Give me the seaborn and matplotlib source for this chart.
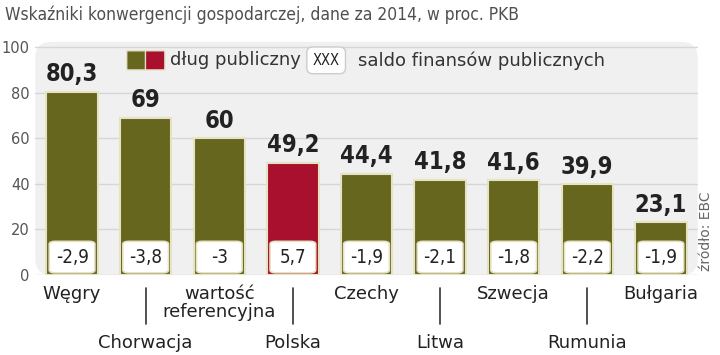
"""
Wskazniki konwergencji - dlug publiczny i saldo finansow (bar chart)
"""

import matplotlib
matplotlib.use('Agg')
import matplotlib.pyplot as plt
from matplotlib.patches import FancyBboxPatch
import seaborn as sns

countries = ['Węgry', 'Chorwacja', 'wartość\nreferencyjna', 'Polska', 'Czechy',
             'Litwa', 'Szwecja', 'Rumunia', 'Bułgaria']
debt = [80.3, 69, 60, 49.2, 44.4, 41.8, 41.6, 39.9, 23.1]
debt_labels = ['80,3', '69', '60', '49,2', '44,4', '41,8', '41,6', '39,9', '23,1']
balance_labels = ['-2,9', '-3,8', '-3', '5,7', '-1,9', '-2,1', '-1,8', '-2,2', '-1,9']

OLIVE = '#66661f'
RED = '#a8102e'
colors = [RED if c == 'Polska' else OLIVE for c in countries]

sns.set_style('white')
plt.rcParams['font.family'] = ['DejaVu Sans']

fig = plt.figure(figsize=(7.2, 3.55), dpi=100)
ax = fig.add_axes([0.049, 0.225, 0.92, 0.657])

# rounded grey panel behind the bars
ax.patch.set_visible(False)
panel = FancyBboxPatch((0, 0), 1, 1, boxstyle='round,pad=0,rounding_size=0.025',
                       transform=ax.transAxes, facecolor='#f0f0f0', edgecolor='none',
                       zorder=0, clip_on=False, mutation_aspect=2.8)
ax.add_patch(panel)

sns.barplot(x=list(range(len(countries))), y=debt, hue=list(range(len(countries))),
            palette=colors, saturation=1, legend=False, width=0.7, ax=ax,
            edgecolor='#e6e2c4', linewidth=1.5, zorder=3)
bars = list(ax.containers[0]) if len(ax.containers) == 1 else [c[0] for c in ax.containers]

ax.set_ylim(0, 102.2)
ax.set_xlim(-0.5, len(countries) - 0.5)
ax.set_yticks([0, 20, 40, 60, 80, 100])
ax.set_yticklabels(['0', '20', '40', '60', '80', '100'], color='#555555', fontsize=10.5)
ax.tick_params(axis='y', length=0, pad=4)
ax.set_xticks([])
ax.yaxis.grid(True, color='#d6d6d6', linewidth=1)
ax.set_axisbelow(True)
for s in ax.spines.values():
    s.set_visible(False)

# values above bars and balance boxes inside
for i, bar in enumerate(bars):
    cx = bar.get_x() + bar.get_width() / 2
    top = bar.get_height()
    ax.annotate(debt_labels[i], (cx, top), xytext=(0, 4), textcoords='offset points',
                ha='center', va='bottom', fontsize=17, fontweight='bold',
                fontstretch='condensed', color='#222222', zorder=5)
    box = FancyBboxPatch((cx - 0.31, 1.0), 0.62, 13.8,
                         boxstyle='round,pad=0,rounding_size=0.08', mutation_aspect=15,
                         facecolor='white', edgecolor='#e6e2c4', linewidth=1.2, zorder=4)
    ax.add_patch(box)
    ax.text(cx, 7.6, balance_labels[i], ha='center', va='center', fontsize=13.5,
            fontstretch='condensed', color='#222222', zorder=5)

# category labels, alternating rows
for i, name in enumerate(countries):
    if i % 2 == 0:
        ax.text(i, -4.5, name, ha='center', va='top', fontsize=13, color='#222222',
                linespacing=0.95, clip_on=False)
    else:
        ax.plot([i, i], [-5.5, -21.5], color='#333333', linewidth=1.2, clip_on=False)
        ax.text(i, -26, name, ha='center', va='top', fontsize=13, color='#222222',
                clip_on=False)

# title
fig.text(0.007, 0.985, 'Wskaźniki konwergencji gospodarczej, dane za 2014, w proc. PKB',
         ha='left', va='top', fontsize=12.5, color='#505050', fontstretch='condensed')

# legend
fig.add_artist(FancyBboxPatch((0.178, 0.805), 0.023, 0.05, boxstyle='round,pad=0.002',
                              transform=fig.transFigure, facecolor=OLIVE, edgecolor='#e6e2c4'))
fig.add_artist(FancyBboxPatch((0.204, 0.805), 0.023, 0.05, boxstyle='round,pad=0.002',
                              transform=fig.transFigure, facecolor=RED, edgecolor='#e6e2c4'))
fig.text(0.236, 0.83, 'dług publiczny', ha='left', va='center', fontsize=13, color='#333333')
fig.text(0.453, 0.83, 'XXX', ha='center', va='center', fontsize=10.5, fontstretch='condensed',
         color='#222222',
         bbox=dict(boxstyle='round,pad=0.4', facecolor='white', edgecolor='#cccccc'))
fig.text(0.497, 0.83, 'saldo finansów publicznych', ha='left', va='center', fontsize=13,
         color='#333333')

# source
fig.text(0.98, 0.35, 'źródło: EBC', rotation=90, ha='center', va='center', fontsize=10,
         color='#666666')

fig.savefig('out.png', dpi=100)
